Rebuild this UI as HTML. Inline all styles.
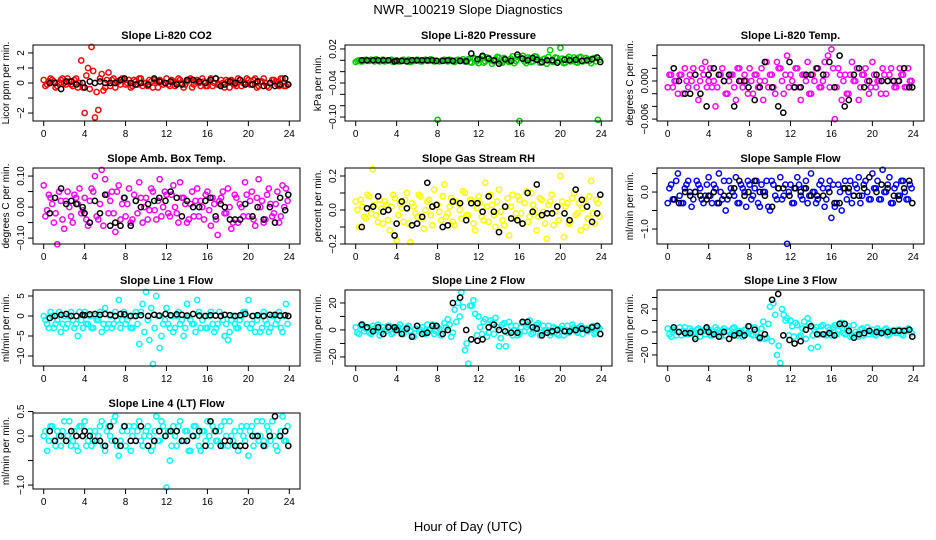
<!DOCTYPE html>
<html><head><meta charset="utf-8">
<style>
html,body{margin:0;padding:0;background:#fff;}
svg{display:block;font-family:"Liberation Sans",Arial,sans-serif;}
</style></head>
<body>
<svg id="chart" width="936" height="540" viewBox="0 0 936 540" xmlns="http://www.w3.org/2000/svg">
<text x="468" y="14" text-anchor="middle" font-size="13">NWR_100219  Slope Diagnostics</text>
<text x="468" y="531" text-anchor="middle" font-size="13">Hour of Day (UTC)</text>
</svg>
<script>
// shared hours for reference (black) points
const bHours = [0.6,1.1,1.7,2.2,2.7,3.2,3.8,4.0,4.5,5.0,5.5,6.0,6.5,7.0,7.5,7.9,8.5,9.0,9.5,10.2,10.8,11.3,11.9,12.4,13.0,13.5,14.0,14.6,15.2,15.8,16.3,16.8,17.3,17.7,18.2,18.7,19.2,19.7,20.4,20.9,21.5,22.1,22.6,23.1,23.6,23.9];
const xTicks = [0,4,8,12,16,20,24];
// colored series: A sampled at i/3 hour, B sampled at (i+0.5)/3 hour (raw units × panel scale)
const co2Vals = [2,-1,3,1,-2,2,0,3,-1,2,-3,15, -20,10,24,-23,-18,6,-3,7,2,-3,1,3, -1,2,-2,1,3,-2,0,2,-3,1,2,-1, 3,-2,1,0,2,-3,1,3,-1,2,-2,1, -2,3,0,-1,2,-3,1,2,-1,3,-2,0, 2,-1,3,-2,1,0,-3,2,1,-2,3,-2];
const co2ValsB = [-2,1,2,-3,0,3,-1,1,-2,3,0,-3, 5,-4,8,-6,3,-5,2,-2,3,1,-1,2, 0,-3,2,-1,3,0,-2,1,2,-3,1,0, -1,2,-2,3,0,-1,2,-3,1,0,3,-2, 1,-2,3,-1,0,2,-3,1,-2,2,0,3, -1,2,-3,1,3,-2,0,2,-1,3,-2,-1];
const co2Black = [0,0,-4,1,1,-1,0,-3,1,0,1,0,0,0,2,3,0,-1,0,-1,3,1,0,1,-1,-1,2,2,1,0,2,3,-2,-1,1,0,2,-1,-1,1,-2,0,-2,-1,3,-1];
const presVals = [-3,0,-2,1,-1,0,2,-2,1,-1,0,-3, 0,-2,1,-1,-3,0,1,-2,0,-1,2,-2, -105,-1,1,-2,0,-3,1,-1,-2,2,-4,3, -5,6,-2,4,-6,2,5,-4,1,-3,7,-1, -107,8,-5,3,-2,6,-4,2,-6,18,-3,4, 22,-5,3,-2,5,-4,6,-1,2,-5,4,-105];
const presValsB = [-1,-2,0,-1,1,-2,0,-1,-2,0,1,-1, -2,0,-1,1,-2,-1,0,-2,1,-1,0,-1, -2,0,-1,1,-2,0,-1,2,0,-3,4,-2, 3,-4,5,0,-2,6,-3,4,-1,3,-5,6, 4,-2,5,-3,7,1,-4,3,6,-2,5,-1, 3,-4,6,1,-3,5,-2,4,-1,3,-2,1];
const presBlack = [0,0,0,0,0,0,-2,-1,-1,-2,0,0,0,0,0,-1,-1,0,-1,-1,-2,12,2,8,3,0,-6,2,-1,10,3,0,4,1,-3,0,0,-4,1,0,1,-1,0,2,5,-3];
const tempVals = [-1,1,0,-2,1,2,-1,0,1,-3,2,3, 0,-1,-4,1,2,-2,0,1,-3,2,-1,0, 2,-2,1,0,-3,3,1,-1,3,2,-2,4, 1,-1,2,-3,1,3,-2,0,2,-1,3,4, 5,-6,2,-3,1,-2,3,0,-3,1,2,-2, 3,-1,0,2,-2,1,0,-1,2,1,-1,0];
const tempValsB = [1,-1,0,1,-2,0,1,2,-1,0,1,-1, 2,0,-1,1,0,-2,1,-1,2,0,1,-2, 0,1,-1,2,0,-1,1,-2,2,0,1,-1, 0,2,-1,1,0,-2,1,2,-1,0,1,-1, 2,-1,1,0,-2,1,0,2,-1,1,0,-1, 1,0,-2,1,0,2,-1,0,1,-1,2,0];
const tempBlack = [2,0,-2,-2,1,-2,-4,1,2,1,0,1,-4,0,0,-1,-3,-1,3,-1,-4,-5,3,-1,-1,1,1,2,1,3,-1,4,-4,-3,1,2,-1,0,1,0,0,0,0,2,-1,-1];
const ambVals = [7,-1,3,-5,-12,2,-7,5,-3,4,1,-2, 3,-6,6,10,-4,12,9,-2,5,-8,7,1, -3,6,-4,2,8,-5,3,-1,5,-4,9,0, 4,-3,7,-2,8,3,-5,1,-3,6,2,-4, 5,-6,1,-9,3,-2,6,-7,4,-5,0,8, -3,5,-6,9,2,-4,6,-3,1,-5,7,6];
const ambValsB = [-3,4,1,-2,5,-4,2,0,-5,3,6,-1, -4,2,5,-3,1,-6,4,2,-2,5,-4,3, 1,-5,4,-2,3,0,-4,6,-1,2,-3,5, -2,4,0,-5,3,1,-4,5,2,-3,0,4, -1,3,-4,2,5,-2,0,-5,3,1,-3,4, 2,-4,3,0,-5,4,1,-2,5,-3,0,2];
const ambBlack = [-2,3,6,1,2,1,0,-2,-5,2,-2,4,-6,-5,-6,3,-6,2,0,1,2,3,2,5,3,-3,2,0,0,2,3,-3,1,0,-4,-4,-4,1,-3,0,-4,0,-5,3,-1,4];
const rhVals = [5,-10,2,-5,8,24,-3,6,-8,3,-12,9, -18,4,-7,10,-19,2,-4,8,-11,5,-3,12, 3,-6,15,-2,7,-9,4,-5,10,-3,6,-12, 8,-4,16,-7,3,-10,12,-6,2,-15,9,-2, 6,-8,11,-4,3,-12,7,-1,-17,5,-9,2, 20,-16,4,-7,10,-2,-12,6,-5,17,-8,4];
const rhValsB = [0,6,-4,9,-2,3,-7,1,5,-6,2,7, -3,1,6,-8,4,-2,9,-5,0,6,-9,3, -1,8,-4,2,-7,5,0,11,-3,6,-8,1, 4,-6,2,9,-3,5,-1,-9,7,2,-5,8, -2,4,-7,10,0,-4,6,-8,3,9,-1,-6, 5,2,-8,7,-3,4,1,-10,8,-2,6,-4];
const rhBlack = [-10,1,2,8,-1,0,-15,-8,5,1,-9,-8,-4,16,2,3,-10,-9,5,4,-6,4,4,-1,8,-1,-13,2,-5,-6,-8,10,-1,15,-3,-2,-2,2,-2,-6,12,6,2,-7,-2,9];
const sampVals = [-3,2,-2,5,-3,1,3,-4,0,2,-2,-1, 4,-3,1,5,-2,-5,3,0,4,-3,1,-4, 2,-1,3,-4,0,3,-5,2,-2,4,-1,-14, 2,-3,4,-1,1,-3,5,0,-2,3,-4,1, -7,-4,2,-5,3,0,-3,2,4,-1,3,-2, 5,1,-2,6,0,4,-3,2,-1,3,-2,2];
const sampValsB = [1,-2,3,-1,-3,2,0,-2,3,1,-3,2, -1,2,-3,0,3,-2,1,-1,-3,2,0,3, -2,1,-3,2,0,-4,3,-1,1,-2,2,0, -3,1,2,-2,3,-1,0,-3,2,1,-2,3, 2,-3,0,1,-2,3,-1,1,-3,2,0,-2, 1,3,-2,0,2,-3,1,-1,3,0,-2,1];
const sampBlack = [-2,-3,0,-1,0,-1,-2,-1,0,-3,-1,-1,1,3,-1,0,3,0,-1,-4,1,1,-1,1,0,1,-1,-1,-1,0,-3,-3,1,1,-1,-1,1,4,0,2,1,-1,-2,1,3,-3];
const l1Vals = [0,-2,1,-3,-1,-4,0,-2,1,-3,-5,-1, 1,-2,-3,0,-1,-4,2,-2,-3,1,4,-1, -2,0,-3,1,-7,3,6,-6,-12,5,-8,-2, 2,-3,-4,0,-2,-5,3,-1,-2,4,-3,0, -3,1,-4,-2,0,-5,-6,-1,-2,-3,0,1, 4,-2,-4,0,-3,-1,-4,0,-2,1,-4,3];
const l1ValsB = [-1,-3,0,-2,1,-2,-3,0,-1,-2,1,-3, -2,0,-3,-1,1,-2,-3,0,-2,-1,-3,1, -1,-3,0,-2,1,-4,-1,2,-3,0,-5,-1, -2,0,-3,1,-1,-3,0,-2,-4,1,-1,-3, 0,-2,-3,1,-1,-2,-4,0,-3,-1,1,-2, -3,0,-1,-4,1,-2,-3,0,-1,-3,0,-2];
const l1Black = [-0.5,0,0.3,0.5,0,0,0.3,0.2,0.4,0.5,0.3,0.5,0.3,0,0.5,0.4,0,0,0.2,0,0.3,0.1,0.5,0.2,0.4,0.3,0.1,0.5,0.1,0,0.2,0.1,0,0.3,0.2,0,0.2,0.5,0,0.2,0,0.3,0.3,0.1,0.2,0];
const l2Vals = [2,-3,4,1,-2,3,0,-4,2,-1,3,-2, 1,4,-3,2,-1,-5,3,0,-2,4,1,-3, 2,-4,5,8,-5,15,20,28,-15,-25,18,12, 10,-3,8,-2,5,9,-12,4,-12,6,-4,3, -3,5,2,7,-2,4,-4,3,0,-4,2,-3, 1,-4,3,0,2,-2,3,1,-1,2,-3,2];
const l2ValsB = [-2,3,-1,2,-3,1,4,-2,0,3,-3,1, 2,-2,0,3,-4,1,-1,2,-3,0,4,-1, 1,-3,2,4,-2,6,10,17,-10,18,22,-4, 2,6,-5,7,-3,2,-6,5,-2,3,0,-4, 2,-1,4,-3,1,5,-2,0,3,-2,1,-4, 3,0,-2,4,-1,2,-3,1,0,3,-2,1];
const l2Black = [4,2,-1,2,-3,2,2,0,-3,1,-5,3,-3,-2,3,3,-3,0,20,24,0,-7,-8,-7,2,4,0,-1,-2,-2,6,6,2,1,-4,-2,-1,0,-1,-1,0,1,0,2,3,-3];
const l3Vals = [3,-4,2,0,-3,4,-2,1,-4,3,0,-2, 2,-3,4,-1,1,-3,0,3,-2,1,-4,2, 5,-3,0,-6,9,-5,22,25,-20,-27,15,12, 10,-4,6,-3,9,12,-14,2,-13,5,-2,4, -3,6,2,8,-2,5,-3,0,-4,3,1,-2, 2,-3,1,0,3,-2,1,-1,2,-3,1,2];
const l3ValsB = [-2,2,-3,4,1,-2,3,-1,2,-4,1,3, -3,0,2,-4,3,1,-2,4,-3,0,2,-1, -2,4,-4,3,-6,7,-8,15,-12,20,10,-3, 5,8,-4,3,-6,7,-3,4,-2,6,-3,2, 4,-2,5,-1,3,-4,6,-2,2,-3,4,0, -2,3,-1,2,-3,1,0,2,-2,1,3,-1];
const l3Black = [4,0,-1,-1,-6,0,4,0,-2,-4,0,-6,-3,-1,-3,5,2,-5,-2,28,33,-3,-7,-10,-8,2,5,-2,-2,-1,-3,7,7,1,-5,-2,-1,1,0,-1,0,1,1,1,2,-4];
const l4Vals = [0,-3,2,-1,1,-2,3,0,-2,1,-3,2, 3,-1,-2,1,0,3,-3,2,-1,4,-4,1, -2,2,0,-1,3,-2,1,0,-2,4,-1,2, -10.5,-5,2,-2,3,-1,1,-3,2,0,-3,1, 3,-2,1,-1,2,3,-2,0,1,-3,2,-1, -4,2,0,-1,3,-2,1,3,-2,0,4,-1];
const l4ValsB = [1,-1,2,-2,0,1,-1,3,-1,-2,2,0, -2,1,0,-1,2,-2,1,0,3,-2,-1,2, 1,-3,2,1,-1,0,2,-3,1,-1,3,0, 1,-2,0,2,-1,1,-3,0,2,-2,1,-1, 0,2,-1,1,-2,0,3,-1,-2,1,0,2, 1,-2,3,0,-1,2,-1,0,-3,1,-1,2];
const l4Black = [1,-1,0,-1,1,0,0,1,0,-1,-1,-2,2,-1,-2,2,-1,-1,2,-2,-1,1,0,1,1,-1,-1,0,1,-2,3,1,-2,-1,-1,-2,-2,-2,0,0,-2,0,4,0,1,-2];

const panels = [
 {name:'co2',title:'Slope Li-820 CO2',ylab:'Licor ppm per min.',col:0,row:0,color:'#ff0000',vals:co2Vals,valsB:co2ValsB,blk:co2Black,sc:0.1,dom:[-2.53,2.53],ticks:[2,1,0,-1,-2],labels:['2','1','0','','\u22122']},
 {name:'pressure',title:'Slope Li-820 Pressure',ylab:'kPa per min.',col:1,row:0,color:'#00cd00',vals:presVals,valsB:presValsB,blk:presBlack,sc:0.001,dom:[-0.107,0.027],ticks:[0.02,0,-0.02,-0.04,-0.06,-0.08,-0.10],labels:['0.02','','','\u22120.04','','','\u22120.10']},
 {name:'li820-temp',title:'Slope Li-820 Temp.',ylab:'degrees C per min.',col:2,row:0,color:'#ff00ff',vals:tempVals,valsB:tempValsB,blk:tempBlack,sc:0.001,dom:[-0.0063,0.00567],ticks:[0.004,0.002,0,-0.002,-0.004,-0.006],labels:['','','0.000','','','\u22120.006']},
 {name:'amb-box-temp',title:'Slope Amb. Box Temp.',ylab:'degrees C per min.',col:0,row:1,color:'#ff00ff',vals:ambVals,valsB:ambValsB,blk:ambBlack,sc:0.01,dom:[-0.119,0.126],ticks:[0.1,0.05,0,-0.05,-0.1],labels:['0.10','','0.00','','\u22120.10']},
 {name:'gas-stream-rh',title:'Slope Gas Stream RH',ylab:'percent per min.',col:1,row:1,color:'#ffff00',vals:rhVals,valsB:rhValsB,blk:rhBlack,sc:0.01,dom:[-0.2,0.247],ticks:[0.2,0.1,0,-0.1,-0.2],labels:['0.2','','0.0','','\u22120.2']},
 {name:'sample-flow',title:'Slope Sample Flow',ylab:'ml/min per min.',col:2,row:1,color:'#0000ff',vals:sampVals,valsB:sampValsB,blk:sampBlack,sc:0.1,dom:[-1.405,0.65],ticks:[0.5,0,-0.5,-1],labels:['','0.0','','\u22121.0']},
 {name:'line1-flow',title:'Slope Line 1 Flow',ylab:'ml/min per min.',col:0,row:2,color:'#00ffff',vals:l1Vals,valsB:l1ValsB,blk:l1Black,sc:1,dom:[-12.5,6.5],ticks:[5,0,-5,-10],labels:['5','0','\u22125','\u221210']},
 {name:'line2-flow',title:'Slope Line 2 Flow',ylab:'ml/min per min.',col:1,row:2,color:'#00ffff',vals:l2Vals,valsB:l2ValsB,blk:l2Black,sc:1,dom:[-26.7,29.6],ticks:[20,10,0,-10,-20],labels:['20','','0','','\u221220']},
 {name:'line3-flow',title:'Slope Line 3 Flow',ylab:'ml/min per min.',col:2,row:2,color:'#00ffff',vals:l3Vals,valsB:l3ValsB,blk:l3Black,sc:1,dom:[-29.6,36.5],ticks:[30,20,10,0,-10,-20],labels:['','20','','0','','\u221220']},
 {name:'line4-flow',title:'Slope Line 4 (LT) Flow',ylab:'ml/min per min.',col:0,row:3,color:'#00ffff',vals:l4Vals,valsB:l4ValsB,blk:l4Black,sc:0.1,dom:[-1.08,0.47],ticks:[0.5,0,-0.5,-1],labels:['0.5','0.0','','\u22121.0']}
];

const NS='http://www.w3.org/2000/svg';
const svg=document.getElementById('chart');
const colLeft=[33,345,657], rowTop=[45,168,290,413], W=267, H=76;
function mk(tag,attrs,parent){const e=document.createElementNS(NS,tag);for(const k in attrs)e.setAttribute(k,attrs[k]);(parent||svg).appendChild(e);return e;}

panels.forEach(p=>{
  const L=colLeft[p.col], T=rowTop[p.row];
  const g=mk('g',{});
  
  
  const xs=h=>L+10.7+h/24*(W-21.4);
  const ys=v=>T+H-(v-p.dom[0])/(p.dom[1]-p.dom[0])*H;
  const t=mk('text',{x:L+W/2,y:T-6,'text-anchor':'middle','font-size':'11','font-weight':'bold'},g);
  t.textContent=p.title;
  
  
  const pts=mk('g',{fill:'none',stroke:p.color,'stroke-width':'1.5'},g);
  
  
  p.vals.forEach((v,i)=>{
    const c=mk('circle',{cx:xs(i/3).toFixed(1),cy:ys(v*p.sc).toFixed(1),r:2.6},pts);
    
    
  });
  p.valsB.forEach((v,i)=>{
    const c=mk('circle',{cx:xs((i+0.5)/3).toFixed(1),cy:ys(v*p.sc).toFixed(1),r:2.6},pts);
    
    
  });
  const bp=mk('g',{fill:'none',stroke:'#000','stroke-width':'1.5'},g);
  
  
  p.blk.forEach((v,i)=>{
    if(bHours[i]===undefined)return;
    const c=mk('circle',{cx:xs(bHours[i]).toFixed(1),cy:ys(v*p.sc).toFixed(1),r:2.6},bp);
    
    
  });
  const box=mk('rect',{x:L,y:T,width:W,height:H,fill:'none',stroke:'#000','stroke-width':'1'},g);
  
  
  const xa=mk('g',{},g);
  
  
  mk('line',{x1:xs(0),x2:xs(24),y1:T+H,y2:T+H,stroke:'#000'},xa);
  xTicks.forEach(h=>{
    mk('line',{x1:xs(h),x2:xs(h),y1:T+H,y2:T+H+5,stroke:'#000'},xa);
    const tl=mk('text',{x:xs(h),y:T+H+16,'text-anchor':'middle','font-size':'10'},xa);
    tl.textContent=h;
    
    
  });
  const ya=mk('g',{},g);
  
  
  const tv=p.ticks;
  mk('line',{x1:L,x2:L,y1:ys(tv[0]),y2:ys(tv[tv.length-1]),stroke:'#000'},ya);
  tv.forEach((v,i)=>{
    const y=ys(v);
    mk('line',{x1:L-5,x2:L,y1:y,y2:y,stroke:'#000'},ya);
    if(p.labels[i]){
      const tl=mk('text',{x:L-9,y:y,'text-anchor':'middle','font-size':'10',transform:'rotate(-90 '+(L-9)+' '+y+')'},ya);
      tl.textContent=p.labels[i];
      
      
    }
  });
  const yl=mk('text',{x:L-24,y:T+H/2,'text-anchor':'middle','font-size':'10',transform:'rotate(-90 '+(L-24)+' '+(T+H/2)+')'},g);
  yl.textContent=p.ylab;
  
  
});
</script>
</body></html>
